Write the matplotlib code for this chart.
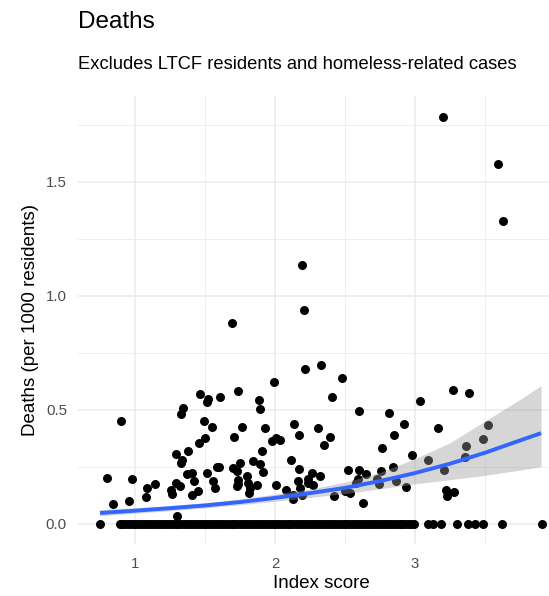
import matplotlib
matplotlib.use("Agg")
from matplotlib import pyplot as plt
from matplotlib.ticker import MultipleLocator
import numpy as np

plt.rcParams.update({"font.family": ["Liberation Sans", "DejaVu Sans"]})

# neighbourhoods with at least one death
pos_x = [3.200, 3.593, 3.629, 2.193, 2.207, 1.693, 2.329, 2.214, 2.479, 1.993,
         3.271, 3.386, 3.036, 0.900, 1.464, 1.524, 1.517, 1.607, 1.738, 1.888,
         1.893, 1.341, 1.329, 1.493, 1.548, 1.762, 1.709, 1.929, 2.136, 2.171,
         2.305, 1.500, 1.457, 2.009, 1.976, 2.036, 1.907, 1.376, 1.293, 1.336,
         1.326, 2.117, 2.174, 1.845, 1.893, 1.917, 1.702, 1.750, 1.583, 1.517,
         1.369, 1.405, 1.424, 1.559, 1.571, 1.405, 1.452, 1.798, 1.738, 1.810,
         1.869, 1.812, 1.293, 1.255, 1.262, 1.321, 1.143, 1.083, 1.079, 0.981,
         0.959, 0.798, 0.845, 2.007, 1.302, 2.079, 2.126, 2.193, 2.262, 2.274,
         2.405, 2.598, 2.817, 2.924, 2.850, 3.167, 3.524, 2.395, 2.350, 2.764,
         2.979, 3.483, 3.362, 3.359, 3.090, 2.845, 2.757, 2.745, 2.524, 2.602,
         2.648, 2.595, 2.576, 3.210, 2.321, 2.238, 2.864, 2.936, 2.424, 2.536,
         2.500, 2.626, 3.219, 3.226, 3.279, 2.726, 1.602, 1.726, 1.738, 1.726,
         1.821, 2.167, 2.179, 2.233, 2.131]
pos_y = [1.785, 1.579, 1.325, 1.132, 0.939, 0.882, 0.697, 0.680, 0.640, 0.623,
         0.588, 0.575, 0.539, 0.452, 0.569, 0.548, 0.535, 0.556, 0.583, 0.544,
         0.503, 0.507, 0.481, 0.449, 0.422, 0.424, 0.380, 0.418, 0.436, 0.387,
         0.418, 0.376, 0.354, 0.377, 0.361, 0.368, 0.317, 0.317, 0.304, 0.278,
         0.264, 0.278, 0.238, 0.276, 0.263, 0.227, 0.244, 0.266, 0.247, 0.222,
         0.218, 0.222, 0.186, 0.186, 0.157, 0.127, 0.142, 0.207, 0.174, 0.178,
         0.171, 0.135, 0.178, 0.149, 0.132, 0.164, 0.175, 0.157, 0.117, 0.196,
         0.101, 0.199, 0.086, 0.170, 0.035, 0.146, 0.110, 0.127, 0.222, 0.171,
         0.554, 0.493, 0.484, 0.439, 0.387, 0.418, 0.431, 0.380, 0.346, 0.330,
         0.303, 0.373, 0.342, 0.292, 0.278, 0.250, 0.229, 0.175, 0.234, 0.234,
         0.218, 0.196, 0.178, 0.234, 0.211, 0.196, 0.186, 0.161, 0.120, 0.135,
         0.142, 0.091, 0.149, 0.123, 0.137, 0.197, 0.249, 0.229, 0.193, 0.167,
         0.157, 0.186, 0.157, 0.178, 0.127]

# neighbourhoods with zero deaths (index score only)
zero_x = [0.75, 0.89, 0.91, 0.93, 0.95, 0.97, 0.99, 1.01, 1.03, 1.05, 1.07,
          1.09, 1.11, 1.13, 1.15, 1.17, 1.19, 1.21, 1.23, 1.25, 1.27, 1.29,
          1.31, 1.33, 1.35, 1.37, 1.39, 1.41, 1.43, 1.45, 1.47, 1.49, 1.51,
          1.53, 1.55, 1.57, 1.59, 1.61, 1.63, 1.65, 1.67, 1.69, 1.71, 1.73,
          1.75, 1.77, 1.79, 1.81, 1.83, 1.85, 1.87, 1.89, 1.91, 1.93, 1.95,
          1.97, 1.99, 2.01, 2.03, 2.05, 2.07, 2.09, 2.11, 2.13, 2.15, 2.17,
          2.19, 2.21, 2.23, 2.25, 2.27, 2.29, 2.31, 2.33, 2.35, 2.37, 2.39,
          2.41, 2.43, 2.45, 2.47, 2.49, 2.51, 2.53, 2.55, 2.57, 2.59, 2.61,
          2.63, 2.65, 2.67, 2.69, 2.71, 2.73, 2.75, 2.77, 2.79, 2.81, 2.83,
          2.85, 2.87, 2.89, 2.91, 2.93, 2.95, 2.97, 2.99, 3.095, 3.131, 3.184,
          3.298, 3.381, 3.429, 3.488, 3.619, 3.905]
zero_y = [0.0] * len(zero_x)

# smoother
fit_x = [0.75, 1.0, 1.25, 1.5, 1.75, 2.0, 2.25, 2.5, 2.75, 3.0, 3.25, 3.5, 3.75, 3.9]
fit_y = [0.047, 0.057, 0.068, 0.080, 0.095, 0.113, 0.134, 0.157, 0.187, 0.222,
         0.263, 0.311, 0.365, 0.397]
fit_lo = [0.034, 0.046, 0.057, 0.069, 0.083, 0.098, 0.115, 0.132, 0.153, 0.175,
          0.193, 0.212, 0.235, 0.250]
fit_hi = [0.062, 0.070, 0.080, 0.092, 0.108, 0.130, 0.152, 0.182, 0.225, 0.285,
          0.355, 0.450, 0.545, 0.605]

W, H = 549, 596
fig = plt.figure(figsize=(W / 100, H / 100), dpi=100)
ax = fig.add_axes([78 / W, 1 - 544 / H, 1 - 78 / W, (544 - 96) / H])

ax.set_xlim(0.593, 3.957)
ax.set_ylim(-0.089, 1.875)
ax.xaxis.set_major_locator(MultipleLocator(1))
ax.xaxis.set_minor_locator(MultipleLocator(0.5))
ax.yaxis.set_major_locator(MultipleLocator(0.5))
ax.yaxis.set_minor_locator(MultipleLocator(0.25))
ax.yaxis.set_major_formatter(lambda v, p: "%.1f" % v)
ax.xaxis.set_major_formatter(lambda v, p: "%d" % v)

ax.grid(True, which="major", color="#EBEBEB", linewidth=1.1)
ax.grid(True, which="minor", color="#EBEBEB", linewidth=0.6)
ax.set_axisbelow(True)
for s in ax.spines.values():
    s.set_visible(False)
ax.tick_params(which="both", length=0, labelsize=10.8, labelcolor="#4D4D4D")
ax.tick_params(axis="x", pad=9)
ax.tick_params(axis="y", pad=8)

ax.scatter(zero_x, zero_y, s=42, color="black", linewidths=0, zorder=2)
ax.scatter(pos_x, pos_y, s=42, color="black", linewidths=0, zorder=2)
ax.fill_between(fit_x, fit_lo, fit_hi, color="#999999", alpha=0.4, linewidth=0, zorder=3)
ax.plot(fit_x, fit_y, color="#3366FF", linewidth=2.8, zorder=4, solid_capstyle="butt")

fig.text(78 / W, 1 - 28 / H, "Deaths", fontsize=17.5, va="baseline", ha="left")
fig.text(78 / W, 1 - 69 / H, "Excludes LTCF residents and homeless-related cases",
         fontsize=13.2, va="baseline", ha="left")
fig.text(321 / W, 1 - 583 / H, "Index score", fontsize=13.5, ha="center", va="center")
fig.text(30.7 / W, 1 - 320 / H, "Deaths (per 1000 residents)", fontsize=13.5,
         ha="center", va="center", rotation=90)

fig.savefig("out.png", dpi=100)
